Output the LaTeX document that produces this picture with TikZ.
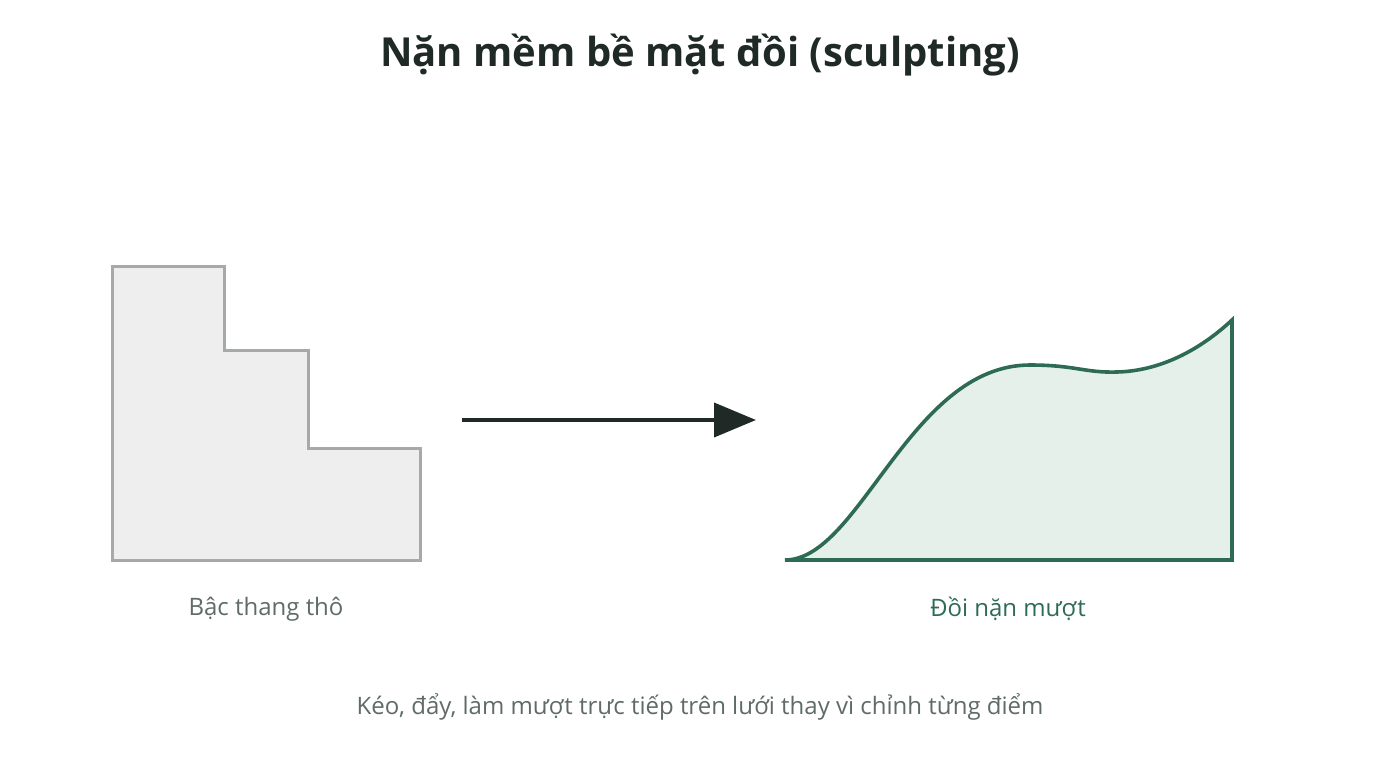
\documentclass[tikz,border=0pt]{standalone}
\usepackage{fontspec}
\setmainfont{Open Sans}
\usetikzlibrary{arrows.meta}
\definecolor{ink}{HTML}{1F2A26}
\definecolor{stepgray}{HTML}{A6AAA7}
\definecolor{stepfill}{HTML}{EEEEEE}
\definecolor{hill}{HTML}{2E6B55}
\definecolor{hillfill}{HTML}{E6F0EA}
\definecolor{capgray}{HTML}{5F6B66}
\tikzset{
  px/.style={x=1pt,y=-1pt},
  titletext/.style={font=\fontsize{40}{46}\selectfont\bfseries, text=ink, anchor=center, inner sep=0pt},
  labeltext/.style={font=\fontsize{24}{28}\selectfont, anchor=center, inner sep=0pt},
}
\begin{document}
\begin{tikzpicture}[px]
\useasboundingbox (0,0) rectangle (1400,784);
\node[titletext] (title) at (700,55) {Nặn mềm bề mặt đồi (sculpting)};
% stairs
\draw[stepgray, fill=stepfill, line width=3pt, line join=miter]
  (112,266) -- (224,266) -- (224,350) -- (308,350) -- (308,448) -- (420,448) -- (420,560) -- (112,560) -- cycle;
% arrow
\coordinate (a1) at (462,420);
\coordinate (a2) at (756,420);
\draw[ink, line width=4pt, -{Triangle[length=42pt,width=34pt]}] (a1) -- (a2);
% hill
\draw[hill, fill=hillfill, line width=3.6pt, line join=miter]
  (785,560) .. controls (860,560) and (910,365) .. (1030,365)
  .. controls (1075,365) and (1085,373) .. (1117,372)
  .. controls (1160,371) and (1200,350) .. (1232,320)
  -- (1232,560) -- cycle;
\node[labeltext, text=capgray] (lstep) at (266,609) {Bậc thang thô};
\node[labeltext, text=hill] (lhill) at (1008,609) {Đồi nặn mượt};
\node[labeltext, text=capgray] (cap) at (700,707) {Kéo, đẩy, làm mượt trực tiếp trên lưới thay vì chỉnh từng điểm};
\end{tikzpicture}
\end{document}
